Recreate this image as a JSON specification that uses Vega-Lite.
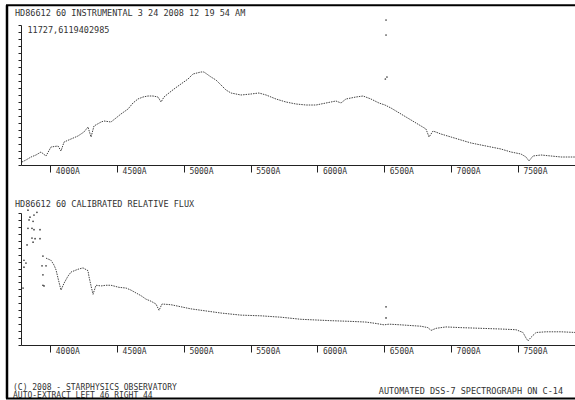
{
  "$schema": "https://vega.github.io/schema/vega-lite/v6.json",
  "padding": {"left": 4, "top": 4, "right": 0, "bottom": 0},
  "background": "white",
  "bounds": "flush",
  "spacing": 48,
  "config": {"view": {"stroke": null}, "font": "DejaVu Sans Mono"},
  "datasets": {
    "instrumental": [
      {"kind": "curve", "wavelength": 3788, "flux": 251}, {"kind": "curve", "wavelength": 3818, "flux": 419}, {"kind": "curve", "wavelength": 3856, "flux": 670}, {"kind": "curve", "wavelength": 3893, "flux": 838},
      {"kind": "curve", "wavelength": 3930, "flux": 1089}, {"kind": "curve", "wavelength": 3968, "flux": 754}, {"kind": "curve", "wavelength": 4005, "flux": 1508}, {"kind": "curve", "wavelength": 4058, "flux": 1592},
      {"kind": "curve", "wavelength": 4080, "flux": 1173}, {"kind": "curve", "wavelength": 4103, "flux": 1927}, {"kind": "curve", "wavelength": 4155, "flux": 2178}, {"kind": "curve", "wavelength": 4207, "flux": 2429},
      {"kind": "curve", "wavelength": 4252, "flux": 2764}, {"kind": "curve", "wavelength": 4282, "flux": 3183}, {"kind": "curve", "wavelength": 4305, "flux": 2346}, {"kind": "curve", "wavelength": 4327, "flux": 3267},
      {"kind": "curve", "wavelength": 4380, "flux": 3602}, {"kind": "curve", "wavelength": 4402, "flux": 3686}, {"kind": "curve", "wavelength": 4454, "flux": 3602}, {"kind": "curve", "wavelength": 4492, "flux": 3937},
      {"kind": "curve", "wavelength": 4529, "flux": 4272}, {"kind": "curve", "wavelength": 4582, "flux": 4691}, {"kind": "curve", "wavelength": 4619, "flux": 5194}, {"kind": "curve", "wavelength": 4656, "flux": 5529},
      {"kind": "curve", "wavelength": 4694, "flux": 5696}, {"kind": "curve", "wavelength": 4731, "flux": 5780}, {"kind": "curve", "wavelength": 4769, "flux": 5780}, {"kind": "curve", "wavelength": 4806, "flux": 5696},
      {"kind": "curve", "wavelength": 4829, "flux": 5277}, {"kind": "curve", "wavelength": 4851, "flux": 5696}, {"kind": "curve", "wavelength": 4888, "flux": 6031}, {"kind": "curve", "wavelength": 4926, "flux": 6366},
      {"kind": "curve", "wavelength": 4978, "flux": 6785}, {"kind": "curve", "wavelength": 5031, "flux": 7204}, {"kind": "curve", "wavelength": 5068, "flux": 7623}, {"kind": "curve", "wavelength": 5128, "flux": 7791},
      {"kind": "curve", "wavelength": 5150, "flux": 7791}, {"kind": "curve", "wavelength": 5203, "flux": 7372}, {"kind": "curve", "wavelength": 5240, "flux": 7120}, {"kind": "curve", "wavelength": 5278, "flux": 6702},
      {"kind": "curve", "wavelength": 5315, "flux": 6283}, {"kind": "curve", "wavelength": 5353, "flux": 6031}, {"kind": "curve", "wavelength": 5427, "flux": 5864}, {"kind": "curve", "wavelength": 5502, "flux": 5948},
      {"kind": "curve", "wavelength": 5562, "flux": 6031}, {"kind": "curve", "wavelength": 5615, "flux": 5864}, {"kind": "curve", "wavelength": 5689, "flux": 5529}, {"kind": "curve", "wavelength": 5764, "flux": 5277},
      {"kind": "curve", "wavelength": 5839, "flux": 5110}, {"kind": "curve", "wavelength": 5914, "flux": 5026}, {"kind": "curve", "wavelength": 5989, "flux": 5026}, {"kind": "curve", "wavelength": 6064, "flux": 5194},
      {"kind": "curve", "wavelength": 6138, "flux": 5361}, {"kind": "curve", "wavelength": 6176, "flux": 5194}, {"kind": "curve", "wavelength": 6213, "flux": 5529}, {"kind": "curve", "wavelength": 6288, "flux": 5696},
      {"kind": "curve", "wavelength": 6341, "flux": 5780}, {"kind": "curve", "wavelength": 6400, "flux": 5529}, {"kind": "curve", "wavelength": 6460, "flux": 5194}, {"kind": "curve", "wavelength": 6505, "flux": 5026},
      {"kind": "curve", "wavelength": 6550, "flux": 4775}, {"kind": "curve", "wavelength": 6625, "flux": 4272}, {"kind": "curve", "wavelength": 6700, "flux": 3770}, {"kind": "curve", "wavelength": 6775, "flux": 3267},
      {"kind": "curve", "wavelength": 6812, "flux": 3016}, {"kind": "curve", "wavelength": 6835, "flux": 2346}, {"kind": "curve", "wavelength": 6865, "flux": 2848}, {"kind": "curve", "wavelength": 6924, "flux": 2597},
      {"kind": "curve", "wavelength": 6999, "flux": 2346}, {"kind": "curve", "wavelength": 7074, "flux": 2094}, {"kind": "curve", "wavelength": 7149, "flux": 1843}, {"kind": "curve", "wavelength": 7224, "flux": 1675},
      {"kind": "curve", "wavelength": 7299, "flux": 1508}, {"kind": "curve", "wavelength": 7373, "flux": 1340}, {"kind": "curve", "wavelength": 7448, "flux": 1089}, {"kind": "curve", "wavelength": 7523, "flux": 921},
      {"kind": "curve", "wavelength": 7561, "flux": 670}, {"kind": "curve", "wavelength": 7583, "flux": 335}, {"kind": "curve", "wavelength": 7613, "flux": 754}, {"kind": "curve", "wavelength": 7673, "flux": 838},
      {"kind": "curve", "wavelength": 7748, "flux": 754}, {"kind": "curve", "wavelength": 7823, "flux": 670}, {"kind": "curve", "wavelength": 7935, "flux": 670},
      {"kind": "spike", "wavelength": 6513, "flux": 12147}, {"kind": "spike", "wavelength": 6513, "flux": 10890}, {"kind": "spike", "wavelength": 6520, "flux": 7372}, {"kind": "spike", "wavelength": 6508, "flux": 7204}
    ],
    "calibrated": [
      {"kind": "curve", "wavelength": 3968, "flux": 1.25}, {"kind": "curve", "wavelength": 4005, "flux": 1.22}, {"kind": "curve", "wavelength": 4028, "flux": 1.15}, {"kind": "curve", "wavelength": 4043, "flux": 1.08},
      {"kind": "curve", "wavelength": 4058, "flux": 0.96}, {"kind": "curve", "wavelength": 4080, "flux": 0.79}, {"kind": "curve", "wavelength": 4103, "flux": 0.89}, {"kind": "curve", "wavelength": 4132, "flux": 0.99},
      {"kind": "curve", "wavelength": 4155, "flux": 1.05}, {"kind": "curve", "wavelength": 4207, "flux": 1.09}, {"kind": "curve", "wavelength": 4245, "flux": 1.11}, {"kind": "curve", "wavelength": 4282, "flux": 1.07},
      {"kind": "curve", "wavelength": 4290, "flux": 0.98}, {"kind": "curve", "wavelength": 4305, "flux": 0.85}, {"kind": "curve", "wavelength": 4320, "flux": 0.73}, {"kind": "curve", "wavelength": 4342, "flux": 0.86},
      {"kind": "curve", "wavelength": 4380, "flux": 0.85}, {"kind": "curve", "wavelength": 4417, "flux": 0.86}, {"kind": "curve", "wavelength": 4454, "flux": 0.86}, {"kind": "curve", "wavelength": 4514, "flux": 0.83},
      {"kind": "curve", "wavelength": 4567, "flux": 0.82}, {"kind": "curve", "wavelength": 4604, "flux": 0.79}, {"kind": "curve", "wavelength": 4641, "flux": 0.75}, {"kind": "curve", "wavelength": 4679, "flux": 0.71},
      {"kind": "curve", "wavelength": 4716, "flux": 0.66}, {"kind": "curve", "wavelength": 4754, "flux": 0.63}, {"kind": "curve", "wavelength": 4791, "flux": 0.59}, {"kind": "curve", "wavelength": 4814, "flux": 0.50},
      {"kind": "curve", "wavelength": 4836, "flux": 0.59}, {"kind": "curve", "wavelength": 4903, "flux": 0.58}, {"kind": "curve", "wavelength": 4978, "flux": 0.55}, {"kind": "curve", "wavelength": 5053, "flux": 0.52},
      {"kind": "curve", "wavelength": 5128, "flux": 0.50}, {"kind": "curve", "wavelength": 5278, "flux": 0.46}, {"kind": "curve", "wavelength": 5427, "flux": 0.43}, {"kind": "curve", "wavelength": 5577, "flux": 0.42},
      {"kind": "curve", "wavelength": 5727, "flux": 0.40}, {"kind": "curve", "wavelength": 5876, "flux": 0.37}, {"kind": "curve", "wavelength": 6101, "flux": 0.35}, {"kind": "curve", "wavelength": 6251, "flux": 0.34},
      {"kind": "curve", "wavelength": 6363, "flux": 0.33}, {"kind": "curve", "wavelength": 6438, "flux": 0.31}, {"kind": "curve", "wavelength": 6498, "flux": 0.29}, {"kind": "curve", "wavelength": 6535, "flux": 0.30},
      {"kind": "curve", "wavelength": 6625, "flux": 0.29}, {"kind": "curve", "wavelength": 6775, "flux": 0.27}, {"kind": "curve", "wavelength": 6827, "flux": 0.25}, {"kind": "curve", "wavelength": 6850, "flux": 0.21},
      {"kind": "curve", "wavelength": 6887, "flux": 0.24}, {"kind": "curve", "wavelength": 6962, "flux": 0.26}, {"kind": "curve", "wavelength": 7074, "flux": 0.25}, {"kind": "curve", "wavelength": 7224, "flux": 0.24},
      {"kind": "curve", "wavelength": 7373, "flux": 0.23}, {"kind": "curve", "wavelength": 7486, "flux": 0.22}, {"kind": "curve", "wavelength": 7538, "flux": 0.18}, {"kind": "curve", "wavelength": 7561, "flux": 0.10},
      {"kind": "curve", "wavelength": 7576, "flux": 0.06}, {"kind": "curve", "wavelength": 7598, "flux": 0.11}, {"kind": "curve", "wavelength": 7636, "flux": 0.18}, {"kind": "curve", "wavelength": 7711, "flux": 0.19},
      {"kind": "curve", "wavelength": 7823, "flux": 0.19}, {"kind": "curve", "wavelength": 7935, "flux": 0.18},
      {"kind": "scatter", "wavelength": 3833, "flux": 1.94}, {"kind": "scatter", "wavelength": 3878, "flux": 1.87}, {"kind": "scatter", "wavelength": 3900, "flux": 1.91}, {"kind": "scatter", "wavelength": 3848, "flux": 1.84},
      {"kind": "scatter", "wavelength": 3841, "flux": 1.80}, {"kind": "scatter", "wavelength": 3871, "flux": 1.78}, {"kind": "scatter", "wavelength": 3833, "flux": 1.68}, {"kind": "scatter", "wavelength": 3863, "flux": 1.68},
      {"kind": "scatter", "wavelength": 3878, "flux": 1.66}, {"kind": "scatter", "wavelength": 3923, "flux": 1.66}, {"kind": "scatter", "wavelength": 3863, "flux": 1.54}, {"kind": "scatter", "wavelength": 3886, "flux": 1.53},
      {"kind": "scatter", "wavelength": 3923, "flux": 1.53}, {"kind": "scatter", "wavelength": 3871, "flux": 1.48}, {"kind": "scatter", "wavelength": 3826, "flux": 1.44}, {"kind": "scatter", "wavelength": 3803, "flux": 1.22},
      {"kind": "scatter", "wavelength": 3818, "flux": 1.18}, {"kind": "scatter", "wavelength": 3803, "flux": 1.12}, {"kind": "scatter", "wavelength": 3945, "flux": 1.28}, {"kind": "scatter", "wavelength": 3938, "flux": 1.14},
      {"kind": "scatter", "wavelength": 3968, "flux": 1.14}, {"kind": "scatter", "wavelength": 3945, "flux": 1.01}, {"kind": "scatter", "wavelength": 3945, "flux": 0.86}, {"kind": "scatter", "wavelength": 3953, "flux": 0.85},
      {"kind": "scatter", "wavelength": 3796, "flux": 0.82}, {"kind": "scatter", "wavelength": 6513, "flux": 0.55}, {"kind": "scatter", "wavelength": 6513, "flux": 0.39}
    ],
    "footer": [
      {"side": "left", "pos": 0, "line": 1, "text": "(C) 2008 - STARPHYSICS OBSERVATORY"},
      {"side": "left", "pos": 0, "line": 2, "text": "AUTO-EXTRACT LEFT 46 RIGHT 44"},
      {"side": "right", "pos": 1, "line": 1.4, "text": "AUTOMATED DSS-7 SPECTROGRAPH ON C-14"}
    ]
  },
  "vconcat": [
    {
      "width": 555,
      "height": 140,
      "title": {"text": "HD86612 60 INSTRUMENTAL 3 24 2008 12 19 54 AM", "anchor": "start", "frame": "group", "dx": -6, "offset": -5.8, "baseline": "alphabetic", "font": "DejaVu Sans Mono", "fontSize": 8.5, "fontWeight": "normal", "color": "#333"},
      "data": {"name": "instrumental"},
      "encoding": {
        "x": {"field": "wavelength", "type": "quantitative", "scale": {"domain": [3780.7, 7935]},
          "axis": {"values": [4000, 4500, 5000, 5500, 6000, 6500, 7000, 7500], "tickSize": 7, "labelPadding": -5, "labelAlign": "left", "labelOffset": 5, "labelBaseline": "top", "labelExpr": "datum.value + 'A'", "labelFont": "DejaVu Sans Mono", "labelFontSize": 8, "labelColor": "#333", "domainColor": "#222", "tickColor": "#222", "title": null, "grid": false, "labelFlush": false, "labelOverlap": false}},
        "y": {"field": "flux", "type": "quantitative", "scale": {"domain": [0, 11727.6119402985]},
          "axis": {"values": [0, 586.38, 1172.76, 1759.14, 2345.52, 2931.9, 3518.28, 4104.66, 4691.04, 5277.42, 5863.81, 6450.19, 7036.57, 7622.95, 8209.33, 8795.71, 9382.09, 9968.47, 10554.85, 11141.23, 11727.6119402985], "tickSize": 3, "labelExpr": "datum.value > 11727 ? '11727,6119402985' : ''", "labelAlign": "left", "labelBaseline": "top", "labelPadding": -9, "labelFont": "DejaVu Sans Mono", "labelFontSize": 8.5, "labelColor": "#333", "domainColor": "#222", "tickColor": "#222", "title": null, "grid": false, "labelOverlap": false}}
      },
      "layer": [
        {"transform": [{"filter": "datum.kind == 'curve'"}], "mark": {"type": "line", "color": "#444", "strokeWidth": 1, "strokeDash": [1.5, 1]}},
        {"transform": [{"filter": "datum.kind == 'spike'"}], "mark": {"type": "point", "filled": true, "size": 3, "color": "#444", "opacity": 1}}
      ]
    },
    {
      "width": 555,
      "height": 132,
      "title": {"text": "HD86612 60 CALIBRATED RELATIVE FLUX", "anchor": "start", "frame": "group", "dx": -6, "offset": -5.9, "baseline": "alphabetic", "font": "DejaVu Sans Mono", "fontSize": 8.5, "fontWeight": "normal", "color": "#333"},
      "data": {"name": "calibrated"},
      "encoding": {
        "x": {"field": "wavelength", "type": "quantitative", "scale": {"domain": [3780.7, 7935]},
          "axis": {"values": [4000, 4500, 5000, 5500, 6000, 6500, 7000, 7500], "tickSize": 7, "labelPadding": -5, "labelAlign": "left", "labelOffset": 5, "labelBaseline": "top", "labelExpr": "datum.value + 'A'", "labelFont": "DejaVu Sans Mono", "labelFontSize": 8, "labelColor": "#333", "domainColor": "#222", "tickColor": "#222", "title": null, "grid": false, "labelFlush": false, "labelOverlap": false}},
        "y": {"field": "flux", "type": "quantitative", "scale": {"domain": [0, 1.9]},
          "axis": {"values": [0, 0.1, 0.2, 0.3, 0.4, 0.5, 0.6, 0.7, 0.8, 0.9, 1.0, 1.1, 1.2, 1.3, 1.4, 1.5, 1.6, 1.7, 1.8, 1.9], "tickSize": 3, "labels": false, "domainColor": "#222", "tickColor": "#222", "title": null, "grid": false}}
      },
      "layer": [
        {"transform": [{"filter": "datum.kind == 'curve'"}], "mark": {"type": "line", "color": "#444", "strokeWidth": 1, "strokeDash": [1.5, 1]}},
        {"transform": [{"filter": "datum.kind == 'scatter'"}], "mark": {"type": "point", "filled": true, "size": 3, "color": "#444", "opacity": 1}}
      ]
    },
    {
      "width": 555,
      "height": 8,
      "layer": [
        {
          "data": {"name": "footer"},
          "transform": [{"filter": "datum.side == 'left'"}],
          "mark": {"type": "text", "align": "left", "baseline": "middle", "dx": -8, "font": "DejaVu Sans Mono", "fontSize": 8, "color": "#333"},
          "encoding": {
            "x": {"field": "pos", "type": "quantitative", "scale": {"domain": [0, 1]}, "axis": null},
            "y": {"field": "line", "type": "quantitative", "scale": {"domain": [2.6875, 1.6875]}, "axis": null},
            "text": {"field": "text"}
          }
        },
        {
          "data": {"name": "footer"},
          "transform": [{"filter": "datum.side == 'right'"}],
          "mark": {"type": "text", "align": "right", "baseline": "middle", "dx": -13, "font": "DejaVu Sans Mono", "fontSize": 8.5, "color": "#333"},
          "encoding": {
            "x": {"field": "pos", "type": "quantitative", "scale": {"domain": [0, 1]}, "axis": null},
            "y": {"field": "line", "type": "quantitative", "scale": {"domain": [2.6875, 1.6875]}, "axis": null},
            "text": {"field": "text"}
          }
        },
        {
          "data": {"values": [{}]},
          "mark": {"type": "rule", "color": "black", "strokeWidth": 2.5},
          "encoding": {
            "x": {"datum": -0.02523, "type": "quantitative", "scale": {"domain": [0, 1]}, "axis": null},
            "y": {"datum": -46.775, "type": "quantitative", "scale": {"domain": [2.6875, 1.6875]}, "axis": null},
            "y2": {"datum": 2.375}
          }
        },
        {
          "data": {"values": [{}]},
          "mark": {"type": "rule", "color": "black", "strokeWidth": 2},
          "encoding": {
            "x": {"datum": -0.02703, "type": "quantitative", "scale": {"domain": [0, 1]}, "axis": null},
            "x2": {"datum": 1.01802},
            "y": {"datum": -46.775, "type": "quantitative", "scale": {"domain": [2.6875, 1.6875]}, "axis": null}
          }
        },
        {
          "data": {"values": [{}]},
          "mark": {"type": "rule", "color": "black", "strokeWidth": 2},
          "encoding": {
            "x": {"datum": -0.02703, "type": "quantitative", "scale": {"domain": [0, 1]}, "axis": null},
            "x2": {"datum": 1.01802},
            "y": {"datum": 2.375, "type": "quantitative", "scale": {"domain": [2.6875, 1.6875]}, "axis": null}
          }
        }
      ]
    }
  ]
}
